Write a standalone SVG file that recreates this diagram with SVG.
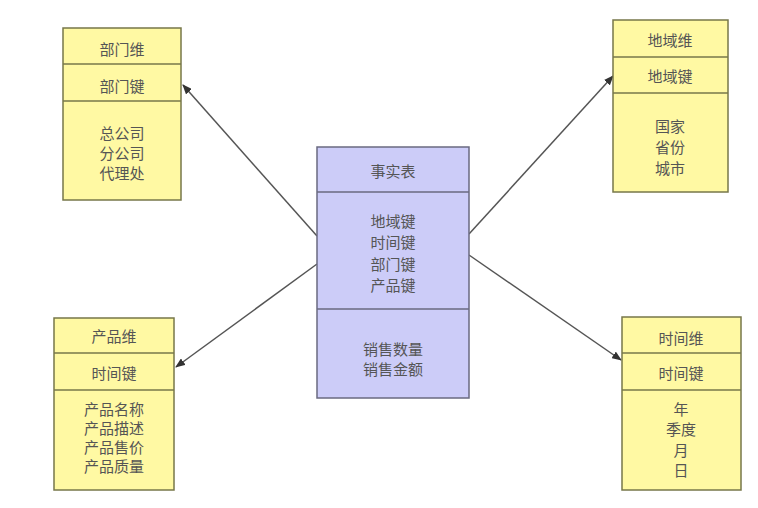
<svg xmlns="http://www.w3.org/2000/svg" width="758" height="508" viewBox="0 0 758 508">
<defs>
<marker id="arr" markerWidth="10" markerHeight="8" refX="9" refY="4" orient="auto" markerUnits="userSpaceOnUse">
<path d="M0,0 L10,4 L0,8 Z" fill="#333"/>
</marker>
<style>
.dim rect{fill:#FFF9A3;stroke:#77774a;stroke-width:1.5}
.dim line{stroke:#77774a;stroke-width:1.5}
.fact rect{fill:#CCCCF8;stroke:#6a6a80;stroke-width:1.5}
.fact line{stroke:#6a6a80;stroke-width:1.5}
text{font-family:"Noto Sans CJK SC","Noto Sans",sans-serif;font-size:15px;fill:#555;text-anchor:middle;dominant-baseline:central}
.conn line{stroke:#555;stroke-width:1.5;marker-end:url(#arr)}
</style>
</defs>
<rect width="758" height="508" fill="#fff"/>
<g class="conn" id="connectors">
<line x1="317" y1="236" x2="183" y2="85"/>
<line x1="469" y1="234" x2="613" y2="76"/>
<line x1="317" y1="264" x2="176" y2="367"/>
<line x1="469" y1="255" x2="621" y2="360"/>
</g>
<g id="dept" class="dim">
<rect x="63" y="28" width="118" height="172"/>
<line x1="63" y1="64" x2="181" y2="64"/>
<line x1="63" y1="101" x2="181" y2="101"/>
<text x="122" y="48">部门维</text>
<text x="122" y="85">部门键</text>
<text x="122" y="132">总公司</text>
<text x="122" y="152">分公司</text>
<text x="122" y="172">代理处</text>
</g>
<g id="region" class="dim">
<rect x="613" y="20" width="115" height="172"/>
<line x1="613" y1="57" x2="728" y2="57"/>
<line x1="613" y1="93" x2="728" y2="93"/>
<text x="670" y="39">地域维</text>
<text x="670" y="75">地域键</text>
<text x="670" y="125">国家</text>
<text x="670" y="146">省份</text>
<text x="670" y="167">城市</text>
</g>
<g id="fact" class="fact">
<rect x="317" y="147" width="152" height="251"/>
<line x1="317" y1="192" x2="469" y2="192"/>
<line x1="317" y1="309" x2="469" y2="309"/>
<text x="393" y="170">事实表</text>
<text x="393" y="220">地域键</text>
<text x="393" y="241">时间键</text>
<text x="393" y="263">部门键</text>
<text x="393" y="284">产品键</text>
<text x="393" y="348">销售数量</text>
<text x="393" y="368">销售金额</text>
</g>
<g id="product" class="dim">
<rect x="54" y="318" width="120" height="172"/>
<line x1="54" y1="353" x2="174" y2="353"/>
<line x1="54" y1="390" x2="174" y2="390"/>
<text x="114" y="335">产品维</text>
<text x="114" y="372">时间键</text>
<text x="114" y="408">产品名称</text>
<text x="114" y="427">产品描述</text>
<text x="114" y="446">产品售价</text>
<text x="114" y="465">产品质量</text>
</g>
<g id="time" class="dim">
<rect x="622" y="317" width="119" height="173"/>
<line x1="622" y1="353" x2="741" y2="353"/>
<line x1="622" y1="390" x2="741" y2="390"/>
<text x="681" y="337">时间维</text>
<text x="681" y="372">时间键</text>
<text x="681" y="408">年</text>
<text x="681" y="428">季度</text>
<text x="681" y="449">月</text>
<text x="681" y="469">日</text>
</g>
</svg>
